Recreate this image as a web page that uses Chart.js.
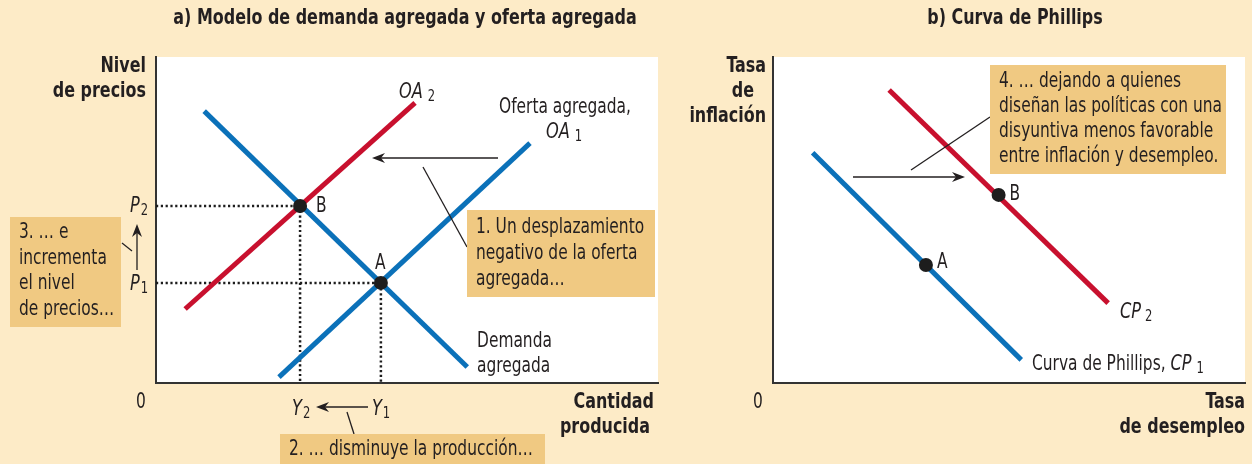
<!DOCTYPE html>
<html>
<head>
<meta charset="utf-8">
<script src="https://cdn.jsdelivr.net/npm/chart.js@4.4.1/dist/chart.umd.min.js"></script>
<style>
  html, body { margin: 0; padding: 0; background: #fdebc7; }
  #lienzo { position: relative; width: 1252px; height: 464px; overflow: hidden; }
  #graficoA { position: absolute; left: 0; top: 0; }
  #graficoB { position: absolute; left: 680px; top: 0; }
</style>
</head>
<body>
<div id="lienzo">
  <canvas id="graficoA" width="680" height="464"></canvas>
  <canvas id="graficoB" width="572" height="464"></canvas>
</div>
<script>
// ---- datos (unidades de 0 a 10 en cada eje) ----
// a) demanda agregada y oferta agregada
var daX = [0.96, 6.20],  daY = [8.34, 0.49];   // Demanda agregada
var oa1X = [2.45, 7.45], oa1Y = [0.18, 7.36];  // OA1
var oa2X = [0.58, 5.16], oa2Y = [2.27, 8.59];  // OA2
var equilX = [4.48, 2.87], equilY = [3.07, 5.43];
var equilNombres = ['A', 'B'];

// b) curva de Phillips
var cp1X = [0.84, 5.26], cp1Y = [7.06, 0.71];
var cp2X = [2.46, 7.10], cp2Y = [8.99, 2.45];
var phX = [3.24, 4.78], phY = [3.62, 5.77];
var phNombres = ['A', 'B'];

var AZUL = '#0b71b9';
var ROJO = '#c8102e';
var CAJA = '#f0c982';
var TINTA = '#231f20';
var FUENTE = "'Liberation Sans Narrow', 'DejaVu Sans Condensed', 'Roboto'";

// la letra original es alta y estrecha: se ajusta el cuerpo por la altura
// de mayusculas y luego se comprime en horizontal
var metrica = {};
function medir(peso) {
    if (metrica[peso]) return metrica[peso];
    var c = document.createElement('canvas').getContext('2d');
    c.font = peso + ' 100px ' + FUENTE;
    var alto = c.measureText('H').actualBoundingBoxAscent || 72;
    var tam = 100 * 15 / alto;
    var muestra, objetivo;
    if (peso === 'bold') {
        muestra = 'a) Modelo de demanda agregada y oferta agregada';
        objetivo = 463;
    } else {
        muestra = '1. Un desplazamiento';
        objetivo = 168;
    }
    c.font = peso + ' ' + tam + 'px ' + FUENTE;
    metrica[peso] = { tam: tam, k: Math.min(1, objetivo / c.measureText(muestra).width) };
    return metrica[peso];
}

function puntos(xs, ys) {
    var r = [];
    for (var i = 0; i < xs.length; i++) r.push({x: xs[i], y: ys[i]});
    return r;
}

function recta(xs, ys, color) {
    return {
        data: puntos(xs, ys),
        showLine: true,
        borderColor: color,
        borderWidth: 5,
        borderCapStyle: 'butt',
        pointRadius: 0,
        pointHoverRadius: 0
    };
}

function guia(x, y) {
    return {
        data: [{x: 0, y: y}, {x: x, y: y}, {x: x, y: 0}],
        showLine: true,
        borderColor: '#1d1d1d',
        borderWidth: 2.5,
        borderDash: [2.2, 2.6],
        pointRadius: 0
    };
}

// o.esc: tamano relativo al cuerpo normal
function texto(ctx, s, x, y, o) {
    o = o || {};
    var peso = o.peso || 'normal';
    var m = medir(peso);
    var tam = m.tam * (o.esc || 1);
    ctx.save();
    ctx.font = (o.estilo || 'normal') + ' ' + peso + ' ' + tam.toFixed(2) + 'px ' + FUENTE;
    ctx.fillStyle = o.color || TINTA;
    ctx.textAlign = o.alin || 'left';
    ctx.textBaseline = 'alphabetic';
    ctx.translate(x, y);
    ctx.scale(m.k, 1);
    ctx.fillText(s, 0, 0);
    var w = ctx.measureText(s).width * m.k;
    ctx.restore();
    return w;
}

// letra en cursiva con subindice
function conSub(ctx, base, sub, x, y, sep) {
    var w = texto(ctx, base, x, y, {estilo: 'italic', esc: 1.05});
    texto(ctx, sub, x + w + (sep || 1), y + 3, {esc: 0.75});
}

function linea(ctx, x1, y1, x2, y2) {
    ctx.save();
    ctx.strokeStyle = TINTA;
    ctx.lineWidth = 1.3;
    ctx.beginPath();
    ctx.moveTo(x1, y1);
    ctx.lineTo(x2, y2);
    ctx.stroke();
    ctx.restore();
}

function flecha(ctx, x1, y1, x2, y2) {
    var ang = Math.atan2(y2 - y1, x2 - x1);
    var largo = 13, ancho = 5;
    linea(ctx, x1, y1, x2 - Math.cos(ang) * 8, y2 - Math.sin(ang) * 8);
    ctx.save();
    ctx.fillStyle = TINTA;
    ctx.translate(x2, y2);
    ctx.rotate(ang);
    ctx.beginPath();
    ctx.moveTo(0, 0);
    ctx.lineTo(-largo, -ancho);
    ctx.lineTo(-largo + 4, 0);
    ctx.lineTo(-largo, ancho);
    ctx.closePath();
    ctx.fill();
    ctx.restore();
}

function caja(ctx, x, y, w, h, lineas, alto, base) {
    ctx.save();
    ctx.fillStyle = CAJA;
    ctx.fillRect(x, y, w, h);
    ctx.restore();
    for (var i = 0; i < lineas.length; i++) {
        texto(ctx, lineas[i], x + 9, y + base + i * alto);
    }
}

var fondoBlanco = {
    id: 'fondoBlanco',
    beforeDraw(chart) {
        var a = chart.chartArea;
        var ctx = chart.ctx;
        ctx.save();
        ctx.fillStyle = '#ffffff';
        ctx.fillRect(a.left, a.top, a.right - a.left, a.bottom - a.top);
        ctx.restore();
    }
};

var anotacionesA = {
    id: 'anotacionesA',
    afterDatasetsDraw(chart) {
        var ctx = chart.ctx;
        var sx = chart.scales.x, sy = chart.scales.y;

        texto(ctx, 'a) Modelo de demanda agregada y oferta agregada', 405, 24, {peso: 'bold', alin: 'center'});
        texto(ctx, 'Nivel', 146, 72, {peso: 'bold', alin: 'right'});
        texto(ctx, 'de precios', 146, 97, {peso: 'bold', alin: 'right'});
        texto(ctx, 'Cantidad', 654, 408, {peso: 'bold', alin: 'right'});
        texto(ctx, 'producida', 650, 433, {peso: 'bold', alin: 'right'});
        texto(ctx, '0', 141, 408, {alin: 'center'});

        conSub(ctx, 'OA', '2', 399, 98, 5);
        texto(ctx, 'Oferta agregada,', 499, 113);
        conSub(ctx, 'OA', '1', 546, 138, 5);
        texto(ctx, 'Demanda', 477, 347);
        texto(ctx, 'agregada', 477, 372);

        // etiquetas de los equilibrios
        var xA = sx.getPixelForValue(equilX[0]), yA = sy.getPixelForValue(equilY[0]);
        var xB = sx.getPixelForValue(equilX[1]), yB = sy.getPixelForValue(equilY[1]);
        texto(ctx, equilNombres[0], xA - 6, yA - 14);
        texto(ctx, equilNombres[1], xB + 16, yB + 6);
        conSub(ctx, 'P', '2', 130, yB + 6);
        conSub(ctx, 'P', '1', 130, yA + 7);
        conSub(ctx, 'Y', '2', xB - 8, 415);
        conSub(ctx, 'Y', '1', xA - 9, 415);

        // desplazamiento de OA
        flecha(ctx, 498, 158, 372, 158);
        linea(ctx, 423, 167, 467, 247);
        caja(ctx, 467, 210, 188, 87, ['1. Un desplazamiento', 'negativo de la oferta', 'agregada\u2026'], 26, 23);

        // produccion
        flecha(ctx, 368, 407, 316, 407);
        linea(ctx, 347, 412, 354, 434);
        caja(ctx, 280, 434, 265, 30, ['2. \u2026 disminuye la producci\u00f3n\u2026'], 0, 21);

        // precios
        flecha(ctx, 137, 270, 137, 224);
        linea(ctx, 122, 243, 132, 251);
        caja(ctx, 10, 217, 111, 110, ['3. \u2026 e', 'incrementa', 'el nivel', 'de precios\u2026'], 25.7, 21);
    }
};

var anotacionesB = {
    id: 'anotacionesB',
    afterDatasetsDraw(chart) {
        var ctx = chart.ctx;
        var sx = chart.scales.x, sy = chart.scales.y;

        texto(ctx, 'b) Curva de Phillips', 335, 24, {peso: 'bold', alin: 'center'});
        texto(ctx, 'Tasa', 86, 72, {peso: 'bold', alin: 'right'});
        texto(ctx, 'de', 74, 97, {peso: 'bold', alin: 'right'});
        texto(ctx, 'inflaci\u00f3n', 86, 122, {peso: 'bold', alin: 'right'});
        texto(ctx, 'Tasa', 565, 408, {peso: 'bold', alin: 'right'});
        texto(ctx, 'de desempleo', 565, 433, {peso: 'bold', alin: 'right'});
        texto(ctx, '0', 78, 408, {alin: 'center'});

        var xA = sx.getPixelForValue(phX[0]), yA = sy.getPixelForValue(phY[0]);
        var xB = sx.getPixelForValue(phX[1]), yB = sy.getPixelForValue(phY[1]);
        texto(ctx, phNombres[0], xA + 11, yA + 3);
        texto(ctx, phNombres[1], xB + 11, yB + 5);

        conSub(ctx, 'CP', '2', 440, 318, 4);
        var w = texto(ctx, 'Curva de Phillips, ', 352, 370);
        conSub(ctx, 'CP', '1', 352 + w, 370, 5);

        flecha(ctx, 173, 177, 285, 177);
        linea(ctx, 231, 170, 310, 117);
        caja(ctx, 310, 65, 236, 109, ['4. \u2026 dejando a quienes', 'dise\u00f1an las pol\u00edticas con una', 'disyuntiva menos favorable', 'entre inflaci\u00f3n y desempleo.'], 25, 22);
    }
};

function ejes(padding) {
    var eje = {
        type: 'linear',
        min: 0,
        max: 10,
        grid: { display: false, drawTicks: false },
        ticks: { display: false },
        border: { display: true, color: '#333', width: 2 }
    };
    return {
        responsive: false,
        animation: false,
        events: [],
        layout: { padding: padding },
        plugins: { legend: { display: false }, tooltip: { enabled: false }, title: { display: false } },
        scales: {
            x: Object.assign({}, eje),
            y: Object.assign({}, eje)
        }
    };
}

new Chart(document.getElementById('graficoA'), {
    type: 'scatter',
    data: {
        datasets: [
            { data: puntos(equilX, equilY), pointRadius: 7, backgroundColor: '#1d1d1d', borderWidth: 0 },
            recta(daX, daY, AZUL),
            recta(oa1X, oa1Y, AZUL),
            recta(oa2X, oa2Y, ROJO),
            guia(equilX[0], equilY[0]),
            guia(equilX[1], equilY[1])
        ]
    },
    options: ejes({ left: 156, top: 57, right: 22, bottom: 81 }),
    plugins: [fondoBlanco, anotacionesA]
});

new Chart(document.getElementById('graficoB'), {
    type: 'scatter',
    data: {
        datasets: [
            { data: puntos(phX, phY), pointRadius: 7, backgroundColor: '#1d1d1d', borderWidth: 0 },
            recta(cp1X, cp1Y, AZUL),
            recta(cp2X, cp2Y, ROJO)
        ]
    },
    options: ejes({ left: 93, top: 57, right: 0, bottom: 81 }),
    plugins: [fondoBlanco, anotacionesB]
});
</script>
</body>
</html>
